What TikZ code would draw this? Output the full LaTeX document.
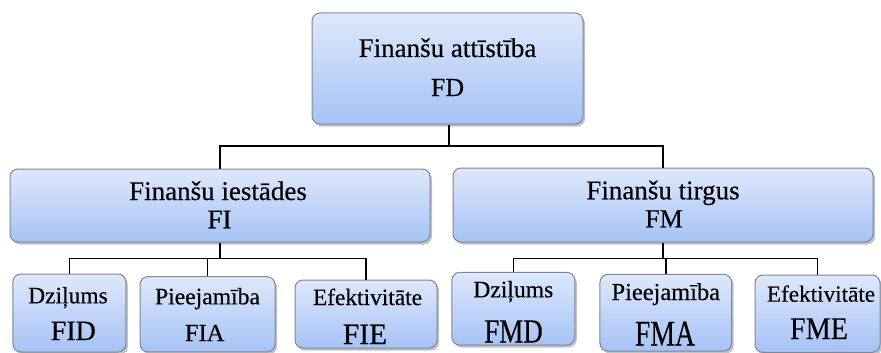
\documentclass[tikz,border=0pt]{standalone}
\usepackage{fontspec}
\setmainfont{Liberation Serif}
\newfontfamily\tnr{Liberation Serif}[FakeBold=0.4]
\usepackage{graphicx}
\usetikzlibrary{shadows}
\definecolor{boxtop}{RGB}{222,232,251}
\definecolor{boxbot}{RGB}{166,194,246}
\definecolor{boxline}{RGB}{125,135,150}
\newcommand{\setfs}[1]{\tnr\fontsize{#1}{#1}\selectfont}
\tikzset{
  box/.style={draw=boxline, line width=1pt, rounded corners=8pt,
    top color=boxtop, bottom color=boxbot, inner sep=0pt,
    drop shadow={shadow xshift=2pt, shadow yshift=-2.5pt, opacity=0.4, fill=black!60}},
  lbl/.style={anchor=base, inner sep=0pt},
  conn/.style={draw=black, line width=1.6pt}
}
\begin{document}
\begin{tikzpicture}[x=1pt,y=-1pt]
\useasboundingbox (0,0) rectangle (881,353);
% boxes
\node[box, minimum width=271pt, minimum height=111pt] (fd) at (447.5,68.5) {};
\node[box, minimum width=420pt, minimum height=73pt] (fi) at (220,205.5) {};
\node[box, minimum width=420pt, minimum height=74pt] (fm) at (663,205) {};
\node[box, minimum width=113pt, minimum height=78pt] (fid) at (69.4,313) {};
\node[box, minimum width=135pt, minimum height=75.3pt] (fia) at (207.5,314.3) {};
\node[box, minimum width=142pt, minimum height=68pt] (fie) at (366,314) {};
\node[box, minimum width=123pt, minimum height=72.7pt] (fmd) at (513.3,308.7) {};
\node[box, minimum width=131.7pt, minimum height=76.7pt] (fma) at (665.8,312.7) {};
\node[box, minimum width=125pt, minimum height=77.3pt] (fme) at (817.5,313.7) {};
% texts
\node[lbl, font=\setfs{27}] (fdt) at (447.5,57) {Finanšu attīstība};
\node[lbl, font=\setfs{26}] (fdc) at (447.5,96) {FD};
\node[lbl, font=\setfs{27}] (fit) at (218,200) {Finanšu iestādes};
\node[lbl, font=\setfs{27}] (fic) at (219.5,228.3) {FI};
\node[lbl, font=\setfs{27}] (fmt) at (663,199.3) {Finanšu tirgus};
\node[lbl, font=\setfs{26}] (fmc) at (664,227.3) {FM};
\node[lbl, font=\setfs{23.5}] (fidt) at (68,303.3) {Dziļums};
\node[lbl, font=\setfs{28}] (fidc) at (73.3,340) {FID};
\node[lbl, font=\setfs{23.6}] (fiat) at (207.5,304.3) {Pieejamība};
\node[lbl, font=\setfs{24.5}] (fiac) at (204.7,341) {FIA};
\node[lbl, font=\setfs{23.4}] (fiet) at (367.5,305) {Efektivitāte};
\node[lbl, font=\setfs{29.5}] (fiec) at (365,344) {FIE};
\node[lbl, font=\setfs{23.6}] (fmdt) at (513.3,297.3) {Dziļums};
\node[lbl, font=\setfs{27}] (fmdc) at (513.5,342.5) {\scalebox{1}[1.25]{FMD}};
\node[lbl, font=\setfs{24.4}] (fmat) at (665.8,300) {Pieejamība};
\node[lbl, font=\setfs{27.7}] (fmac) at (665,345.5) {\scalebox{1}[1.3]{FMA}};
\node[lbl, font=\setfs{23.2}] (fmet) at (821,301.7) {Efektivitāte};
\node[lbl, font=\setfs{28.2}] (fmec) at (819,339) {\scalebox{1}[1.12]{FME}};
% junctions
\coordinate (j0) at (449,146);
\coordinate (j1) at (220,258.5);
\coordinate (j2) at (663,258.5);
% connectors
\draw[conn] (fd.south -| j0) -- (j0);
\draw[conn] (fi.north) -- (fi.north |- j0) -- (fm.north |- j0) -- (fm.north);
\draw[conn] (fi.south) -- (j1);
\draw[conn] (fid.north) -- (fid.north |- j1) -- (fie.north |- j1) -- (fie.north);
\draw[conn] (fia.north) -- (fia.north |- j1);
\draw[conn] (fm.south) -- (j2);
\draw[conn] (fmd.north) -- (fmd.north |- j2) -- (fme.north |- j2) -- (fme.north);
\draw[conn] (fma.north) -- (fma.north |- j2);
\end{tikzpicture}
\end{document}
